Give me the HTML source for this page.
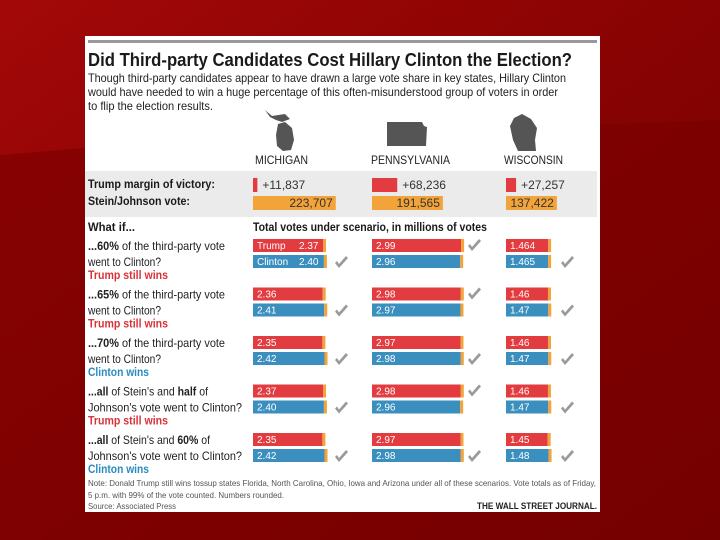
<!DOCTYPE html>
<html><head><meta charset="utf-8"><style>
html,body{margin:0;padding:0;width:720px;height:540px;overflow:hidden;background:#7d0000}
svg{display:block}
text{font-family:"Liberation Sans",sans-serif}
</style></head><body>
<svg id="chart" width="720" height="540" viewBox="0 0 720 540">
<defs>
<linearGradient id="bg" x1="0" y1="0" x2="1" y2="1">
<stop offset="0" stop-color="#a30808"/><stop offset="0.35" stop-color="#900404"/><stop offset="1" stop-color="#6e0000"/>
</linearGradient>
</defs>
<rect width="720" height="540" fill="url(#bg)"/>
<polygon points="0,155 180,140 720,120 720,540 0,540" fill="#7a0000" opacity="0.6"/>
<rect x="85" y="36" width="515" height="476" fill="#fff"/>
<rect x="88" y="40" width="509" height="3" fill="#999"/>
<text x="88" y="66" font-size="18" font-weight="bold" fill="#1a1a1a" textLength="484" lengthAdjust="spacingAndGlyphs">Did Third-party Candidates Cost Hillary Clinton the Election?</text>
<g font-size="12" fill="#222">
<text x="88" y="82" textLength="478" lengthAdjust="spacingAndGlyphs">Though third-party candidates appear to have drawn a large vote share in key states, Hillary Clinton</text>
<text x="88" y="96" textLength="470" lengthAdjust="spacingAndGlyphs">would have needed to win a huge percentage of this often-misunderstood group of voters in order</text>
<text x="88" y="110" textLength="125" lengthAdjust="spacingAndGlyphs">to flip the election results.</text>
</g>
<path d="M265,110 L272,116 L285,114 L290,119 L282,122 L276,120 L270,117 Z M278,124 L285,122 L292,128 L294,140 L291,150 L283,151 L277,146 L276,135 Z" fill="#555"/>
<path d="M387,122 L422,122 L424,126 L427,127 L426,146 L387,146 Z" fill="#555"/>
<path d="M514,118 L522,114 L531,119 L537,128 L535,140 L536,151 L518,151 L513,140 L510,126 Z" fill="#555"/>
<g font-size="12" fill="#222">
<text x="255" y="164" textLength="53" lengthAdjust="spacingAndGlyphs">MICHIGAN</text>
<text x="371" y="164" textLength="79" lengthAdjust="spacingAndGlyphs">PENNSYLVANIA</text>
<text x="504" y="164" textLength="59" lengthAdjust="spacingAndGlyphs">WISCONSIN</text>
</g>
<rect x="85" y="171" width="512" height="46" fill="#ebebeb"/>
<g font-size="12" font-weight="bold" fill="#1a1a1a">
<text x="88" y="188" textLength="127" lengthAdjust="spacingAndGlyphs">Trump margin of victory:</text>
<text x="88" y="205" textLength="102" lengthAdjust="spacingAndGlyphs">Stein/Johnson vote:</text>
<text x="88" y="231" textLength="47" lengthAdjust="spacingAndGlyphs">What if...</text>
<text x="253" y="231" textLength="234" lengthAdjust="spacingAndGlyphs">Total votes under scenario, in millions of votes</text>
</g>
<g id="summary"></g>
<g id="rows"></g>
<g font-size="8.5" fill="#555">
<text x="88" y="486" textLength="508" lengthAdjust="spacingAndGlyphs">Note: Donald Trump still wins tossup states Florida, North Carolina, Ohio, Iowa and Arizona under all of these scenarios. Vote totals as of Friday,</text>
<text x="88" y="498" textLength="196" lengthAdjust="spacingAndGlyphs">5 p.m. with 99% of the vote counted. Numbers rounded.</text>
<text x="88" y="509" textLength="88" lengthAdjust="spacingAndGlyphs">Source: Associated Press</text>
</g>
<text x="597" y="509" font-size="9" font-family="Liberation Serif" font-weight="bold" fill="#222" text-anchor="end" textLength="120" lengthAdjust="spacingAndGlyphs">THE WALL STREET JOURNAL.</text>
</svg>
<script>
const states = ['Michigan','Pennsylvania','Wisconsin'];
const margins = [11837, 68236, 27257];
const thirdParty = [223707, 191565, 137422];
const trumpVotes = [[2.37,2.99,1.464],[2.36,2.98,1.46],[2.35,2.97,1.46],[2.37,2.98,1.46],[2.35,2.97,1.45]];
const clintonVotes = [[2.40,2.96,1.465],[2.41,2.97,1.47],[2.42,2.98,1.47],[2.40,2.96,1.47],[2.42,2.98,1.48]];
const trumpLabels = [['2.37','2.99','1.464'],['2.36','2.98','1.46'],['2.35','2.97','1.46'],['2.37','2.98','1.46'],['2.35','2.97','1.45']];
const clintonLabels = [['2.40','2.96','1.465'],['2.41','2.97','1.47'],['2.42','2.98','1.47'],['2.40','2.96','1.47'],['2.42','2.98','1.48']];
const marginLabels = ['+11,837','+68,236','+27,257'];
const thirdLabels = ['223,707','191,565','137,422'];
const outcomes = ['Trump still wins','Trump still wins','Clinton wins','Trump still wins','Clinton wins'];
const scenarioLines = [
 ['<tspan font-weight="bold">...60%</tspan> of the third-party vote','went to Clinton?'],
 ['<tspan font-weight="bold">...65%</tspan> of the third-party vote','went to Clinton?'],
 ['<tspan font-weight="bold">...70%</tspan> of the third-party vote','went to Clinton?'],
 ['<tspan font-weight="bold">...all</tspan> of Stein\'s and <tspan font-weight="bold">half</tspan> of','Johnson\'s vote went to Clinton?'],
 ['<tspan font-weight="bold">...all</tspan> of Stein\'s and <tspan font-weight="bold">60%</tspan> of','Johnson\'s vote went to Clinton?']
];
const line1W = [137,137,137,120,122];
const line2W = [73,73,73,154,154];
const colX = [253, 372, 506];
const checkX = [335, 468, 561];
const NS = 'http://www.w3.org/2000/svg';
const xScale = v => v * 30.8;
const voteScale = v => v * 0.00037;
function mk(tag, attrs, parent){const e=document.createElementNS(NS,tag);for(const k in attrs)e.setAttribute(k,attrs[k]);parent.appendChild(e);return e;}
const sum = document.getElementById('summary');
states.forEach((s,i)=>{
  let r = mk('rect',{x:colX[i],y:178,width:Math.max(3,voteScale(margins[i])),height:14,fill:'#e23b40'},sum);
  
  
  let t = mk('text',{x:colX[i]+Math.max(3,voteScale(margins[i]))+5,y:189,'font-size':12,fill:'#333'},sum);
  t.textContent = marginLabels[i];
  
  
  let w = voteScale(thirdParty[i]);
  let o = mk('rect',{x:colX[i],y:196,width:w,height:14,fill:'#f2a33a'},sum);
  
  
  let ot = mk('text',{x:colX[i]+w-3,y:207,'font-size':12,fill:'#333','text-anchor':'end'},sum);
  ot.textContent = thirdLabels[i];
  
  
});
const rows = document.getElementById('rows');
function check(x,y,parent,name){
  const p = mk('path',{d:`M${x},${y+6} L${x+4},${y+11} L${x+13},${y+1} L${x+11},${y-1} L${x+4},${y+7} L${x+2},${y+4} Z`,fill:'#9a9a9a'},parent);
  
  
}
trumpVotes.forEach((row,r)=>{
  const top = 239 + r*48.5;
  const g = mk('g',{},rows);
  
  
  const l1 = mk('text',{x:88,y:top+11,'font-size':12,fill:'#222',textLength:line1W[r],lengthAdjust:'spacingAndGlyphs'},g);
  l1.innerHTML = scenarioLines[r][0];
  
  
  const l2 = mk('text',{x:88,y:top+27,'font-size':12,fill:'#222',textLength:line2W[r],lengthAdjust:'spacingAndGlyphs'},g);
  l2.textContent = scenarioLines[r][1];
  
  
  const cw = outcomes[r].startsWith('Clinton');
  const out = mk('text',{x:88,y:top+40,'font-size':12,'font-weight':'bold',fill: cw ? '#2a8bbf' : '#d8333a',textLength: cw?61:80,lengthAdjust:'spacingAndGlyphs'},g);
  out.textContent = outcomes[r];
  
  
  states.forEach((s,i)=>{
    const tv=row[i], cv=clintonVotes[r][i];
    [[tv,'#e23b40',top,trumpLabels[r][i],'trump'],[cv,'#3a8fbf',top+16,clintonLabels[r][i],'clinton']].forEach(([v,c,y,lab,who])=>{
      const w = xScale(v);
      const b = mk('rect',{x:colX[i],y:y,width:w-3,height:13,fill:c},g);
      
      
      const cap = mk('rect',{x:colX[i]+w-3,y:y,width:3,height:13,fill:'#f2a33a'},g);
      
      
      let tx = colX[i]+4;
      if(r===0 && i===0){
        const nm = mk('text',{x:tx,y:y+10,'font-size':10,fill:'#fff'},g);
        nm.textContent = who==='trump'?'Trump':'Clinton';
        
        
        tx = colX[i]+46;
      }
      const t = mk('text',{x:tx,y:y+10,'font-size':10,fill:'#fff'},g);
      t.textContent = lab;
      
      
    });
    if(cv>tv) check(checkX[i],top+18,g,'winner-check-'+s.toLowerCase());
    else check(checkX[i],top+1,g,'winner-check-'+s.toLowerCase());
  });
});
</script>
</body></html>
